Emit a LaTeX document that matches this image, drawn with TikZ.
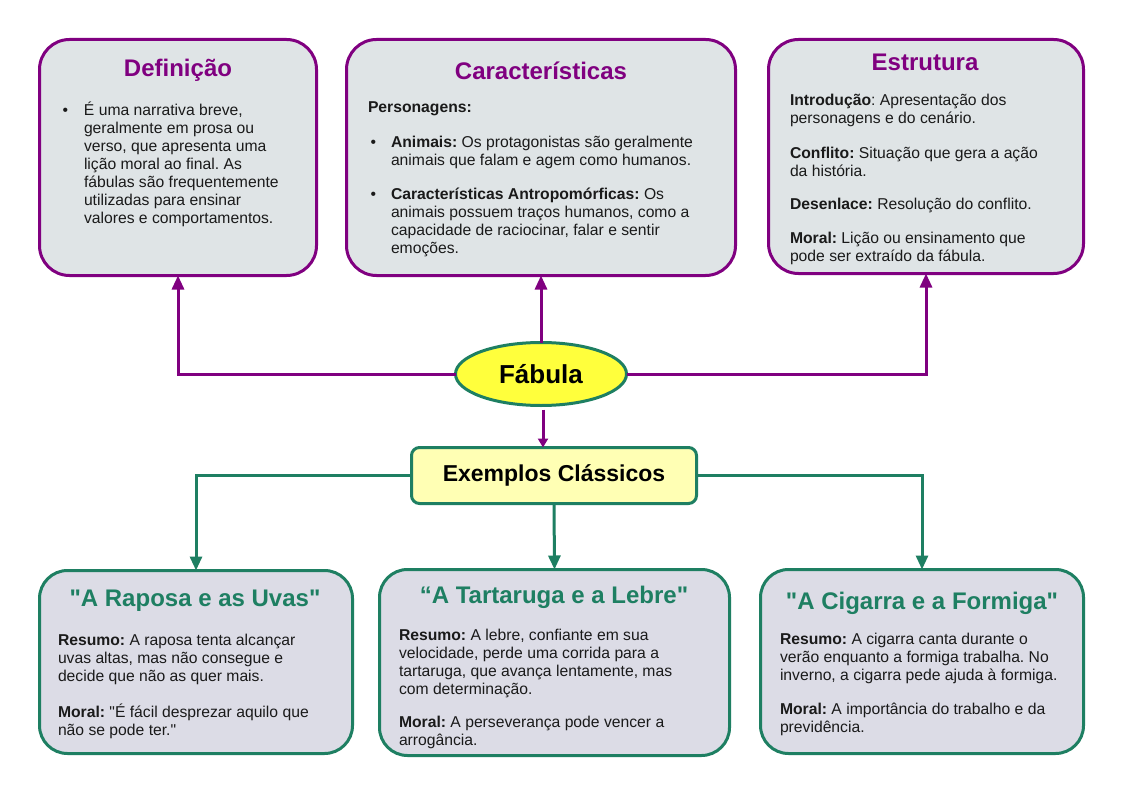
\documentclass[tikz,border=0pt]{standalone}
\usepackage{fontspec}
\setmainfont{Liberation Sans}
\usetikzlibrary{positioning,shapes.geometric,arrows.meta}
\definecolor{roxo}{HTML}{800080}
\definecolor{verde}{HTML}{1E7F62}
\definecolor{cinza}{HTML}{DFE4E6}
\definecolor{lilas}{HTML}{DCDCE6}
\definecolor{amarelo}{HTML}{FFFF3C}
\definecolor{creme}{HTML}{FFFFB4}
\definecolor{tinta}{HTML}{1A1A1A}
\newcommand{\bul}{\llap{\textbullet\hspace{16pt}}}
\newcommand{\aspas}{\textquotedbl}

\begin{document}
\frenchspacing
\begin{tikzpicture}[x=1pt, y=-1pt,
  every node/.style={inner sep=0pt, outer sep=0pt},
  caixa/.style={draw=roxo, line width=3pt, fill=cinza, rounded corners=30pt},
  exemplo/.style={draw=verde, line width=3pt, fill=lilas, rounded corners=28pt},
  titulo/.style={font=\fontsize{24}{28}\selectfont\bfseries, text=roxo},
  titulov/.style={font=\fontsize{24}{28}\selectfont\bfseries, text=verde},
  texto/.style={font=\fontsize{15.7}{18}\selectfont\frenchspacing, text=tinta, align=left, anchor=north west},
  seta/.style={draw=roxo, line width=3pt, -{Triangle[width=12pt,length=14pt]}},
  setav/.style={draw=verde, line width=3pt, -{Triangle[width=12pt,length=14pt]}}
]
\useasboundingbox (0,0) rectangle (1123,794);
\fill[white] (0,0) rectangle (1123,794);

% caixas de cima
\node[caixa, minimum width=277pt, minimum height=236pt] (def) at (178,157.5) {};
\node[caixa, minimum width=389pt, minimum height=236pt] (car) at (541,157.5) {};
\node[caixa, minimum width=315pt, minimum height=234pt] (est) at (926,156.5) {};

\node[titulo] (tdef) at (178,70) {Definição};
\node[titulo] (tcar) at (541,71) {Características};
\node[titulo] (test) at (925,62) {Estrutura};

\node[texto] (xdef) at (84,102) {\bul É uma narrativa breve,\\geralmente em prosa ou\\verso, que apresenta uma\\lição moral ao final. As\\fábulas são frequentemente\\utilizadas para ensinar\\valores e comportamentos.};
\node[texto] (xcar) at (391,102) {\rlap{\hspace{-23pt}\textbf{Personagens:}}\\[17pt]
  \llap{\textbullet\hspace{15pt}}\textbf{Animais:} Os protagonistas são geralmente\\animais que falam e agem como humanos.\\[16pt]
  \llap{\textbullet\hspace{15pt}}\textbf{Características Antropomórficas:} Os\\animais possuem traços humanos, como a\\capacidade de raciocinar, falar e sentir\\emoções.};
\node[texto] (xest) at (790,94) {\textbf{Introdução}: Apresentação dos\\personagens e do cenário.\\[17pt]
  \textbf{Conflito:} Situação que gera a ação\\da história.\\[15pt]
  \textbf{Desenlace:} Resolução do conflito.\\[16pt]
  \textbf{Moral:} Lição ou ensinamento que\\pode ser extraído da fábula.};

% centro
\node[ellipse, draw=verde, line width=3pt, fill=amarelo, minimum width=171pt, minimum height=63pt,
  font=\fontsize{26}{30}\selectfont\bfseries] (fab) at (541,374) {Fábula};
\node[draw=verde, line width=3pt, fill=creme, rounded corners=8pt, minimum width=285pt, minimum height=56pt,
  font=\fontsize{23}{27}\selectfont\bfseries] (ex) at (554,475.5) {Exemplos Clássicos};

% caixas de baixo
\node[exemplo, minimum width=313pt, minimum height=183pt] (rap) at (196,662) {};
\node[exemplo, minimum width=350pt, minimum height=186pt] (tar) at (554.5,662.5) {};
\node[exemplo, minimum width=323pt, minimum height=184pt] (cig) at (922,661.5) {};

\node[titulov] (trap) at (195,601) {\aspas A Raposa e as Uvas\aspas};
\node[titulov] (ttar) at (554,597) {“A Tartaruga e a Lebre\aspas};
\node[titulov] (tcig) at (922,603) {\aspas A Cigarra e a Formiga\aspas};

\node[texto] (xrap) at (58,634) {\textbf{Resumo:} A raposa tenta alcançar\\uvas altas, mas não consegue e\\decide que não as quer mais.\\[18pt]
  \textbf{Moral:} \aspas É fácil desprezar aquilo que\\não se pode ter.\aspas};
\node[texto] (xtar) at (399,629) {\textbf{Resumo:} A lebre, confiante em sua\\velocidade, perde uma corrida para a\\tartaruga, que avança lentamente, mas\\com determinação.\\[15pt]
  \textbf{Moral:} A perseverança pode vencer a\\arrogância.};
\node[texto] (xcig) at (780,633) {\textbf{Resumo:} A cigarra canta durante o\\verão enquanto a formiga trabalha. No\\inverno, a cigarra pede ajuda à formiga.\\[16pt]
  \textbf{Moral:} A importância do trabalho e da\\previdência.};

% ligacoes
\draw[seta] (fab.west) -| (def.south);
\draw[seta] (fab.north) -- (car.south);
\draw[seta] (fab.east) -| (est.south);
\draw[draw=roxo, line width=3pt, -{Triangle[width=10pt,length=9pt]}] ([xshift=2pt,yshift=-4pt]fab.south) -- ([xshift=2pt]fab.south |- ex.north);
\draw[setav] (ex.west) -| (rap.north);
\draw[setav] (ex.south) -- (tar.north);
\draw[setav] (ex.east) -| (cig.north);
\end{tikzpicture}
\end{document}
